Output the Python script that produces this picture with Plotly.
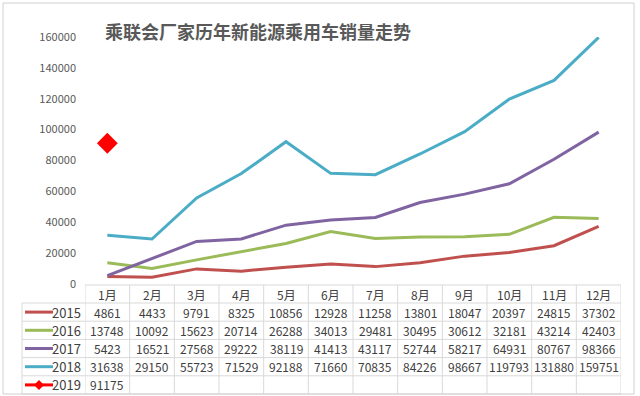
import plotly.graph_objects as go

months = ["1月", "2月", "3月", "4月", "5月", "6月", "7月", "8月", "9月", "10月", "11月", "12月"]
years = ["2015", "2016", "2017", "2018", "2019"]
s2015 = [4861, 4433, 9791, 8325, 10856, 12928, 11258, 13801, 18047, 20397, 24815, 37302]
s2016 = [13748, 10092, 15623, 20714, 26288, 34013, 29481, 30495, 30612, 32181, 43214, 42403]
s2017 = [5423, 16521, 27568, 29222, 38119, 41413, 43117, 52744, 58217, 64931, 80767, 98366]
s2018 = [31638, 29150, 55723, 71529, 92188, 71660, 70835, 84226, 98667, 119793, 131880, 159751]
s2019 = [91175]
y_ticks = [0, 20000, 40000, 60000, 80000, 100000, 120000, 140000, 160000]
title = "乘联会厂家历年新能源乘用车销量走势"

series = [s2015, s2016, s2017, s2018, s2019]
colors = ["#C0504D", "#9BBB59", "#8064A2", "#4BACC6", "#FF0000"]

W, H = 640, 396
L, R, T, B = 85, 621, 37, 284
FONT = "Noto Sans CJK SC, Noto Sans, sans-serif"


def px(X):
    return (X - L) / (R - L)


def py(Y):
    return (B - Y) / (B - T)


fig = go.Figure()
for name, vals, col in zip(years[:4], series[:4], colors[:4]):
    fig.add_trace(go.Scatter(x=months[:len(vals)], y=vals, mode="lines", name=name,
                             line=dict(color=col, width=3)))
fig.add_trace(go.Scatter(x=months[:len(s2019)], y=s2019, mode="markers", name="2019",
                         marker=dict(symbol="diamond", color=colors[4], size=16),
                         cliponaxis=False))

shapes = []
annotations = []
grid = "#D9D9D9"
txt = "#404040"

# table geometry (pixels)
header_top, header_bot = 285, 303
row_h = 18.2
rows_y = [header_bot + i * row_h for i in range(len(years) + 1)]
leg_left = 22

# horizontal lines
shapes.append(dict(type="line", xref="paper", yref="paper", x0=px(L), x1=px(R),
                   y0=py(header_top), y1=py(header_top), line=dict(color=grid, width=1)))
for Y in rows_y:
    shapes.append(dict(type="line", xref="paper", yref="paper", x0=px(leg_left), x1=px(R),
                       y0=py(Y), y1=py(Y), line=dict(color=grid, width=1)))
# vertical lines
for i in range(len(months) + 1):
    shapes.append(dict(type="line", xref="x", yref="paper", x0=i - 0.5, x1=i - 0.5,
                       y0=py(header_top), y1=py(rows_y[-1]), line=dict(color=grid, width=1)))
shapes.append(dict(type="line", xref="paper", yref="paper", x0=px(leg_left), x1=px(leg_left),
                   y0=py(rows_y[0]), y1=py(rows_y[-1]), line=dict(color=grid, width=1)))
# outer border
shapes.append(dict(type="rect", xref="paper", yref="paper", x0=px(3), x1=px(634),
                   y0=py(394), y1=py(3), line=dict(color="#D0D0D0", width=1)))

# header labels
for i, m in enumerate(months):
    annotations.append(dict(x=i, y=py((header_top + header_bot) / 2), xref="x", yref="paper",
                            text=m, showarrow=False, font=dict(size=12, color=txt, family=FONT),
                            xanchor="center", yanchor="middle"))
# rows
for r, (name, vals, col) in enumerate(zip(years, series, colors)):
    yc = py((rows_y[r] + rows_y[r + 1]) / 2)
    shapes.append(dict(type="line", xref="paper", yref="paper", x0=px(25), x1=px(53),
                       y0=yc, y1=yc, line=dict(color=col, width=3)))
    if name == "2019":
        cx, cy, d = 39, (rows_y[r] + rows_y[r + 1]) / 2, 5
        shapes.append(dict(type="path", xref="paper", yref="paper",
                           path=f"M {px(cx - d)},{py(cy)} L {px(cx)},{py(cy - d)} L {px(cx + d)},{py(cy)} L {px(cx)},{py(cy + d)} Z",
                           fillcolor=col, line=dict(color=col, width=0)))
    annotations.append(dict(x=px(83), y=yc, xref="paper", yref="paper", text=name,
                            showarrow=False, font=dict(size=13, color=txt, family=FONT),
                            xanchor="right", yanchor="middle"))
    for i, v in enumerate(vals):
        annotations.append(dict(x=i, y=yc, xref="x", yref="paper", text=str(v),
                                showarrow=False, font=dict(size=12, color=txt, family=FONT),
                                xanchor="center", yanchor="middle"))

annotations.append(dict(x=px(258), y=py(31), xref="paper", yref="paper", text=title,
                        showarrow=False,
                        font=dict(size=18, color="#595959", family=FONT, weight="bold"),
                        xanchor="center", yanchor="middle"))

fig.update_layout(
    width=W, height=H,
    margin=dict(l=L, r=W - R, t=T, b=H - B),
    paper_bgcolor="white", plot_bgcolor="white",
    showlegend=False,
    shapes=shapes, annotations=annotations,
    font=dict(family=FONT, color="#595959"),
)
fig.update_xaxes(type="category", range=[-0.5, 11.5], showticklabels=False, showgrid=False,
                 zeroline=False, showline=False, ticks="")
fig.update_yaxes(range=[0, 160000], tickvals=y_ticks, ticktext=[str(v) for v in y_ticks],
                 showgrid=False, zeroline=False, showline=False, ticks="",
                 tickfont=dict(size=11, color="#595959", family=FONT), ticklabelstandoff=8)

fig.write_html("out.html", config={"displayModeBar": False},
               post_script="document.body.style.margin='0';")
